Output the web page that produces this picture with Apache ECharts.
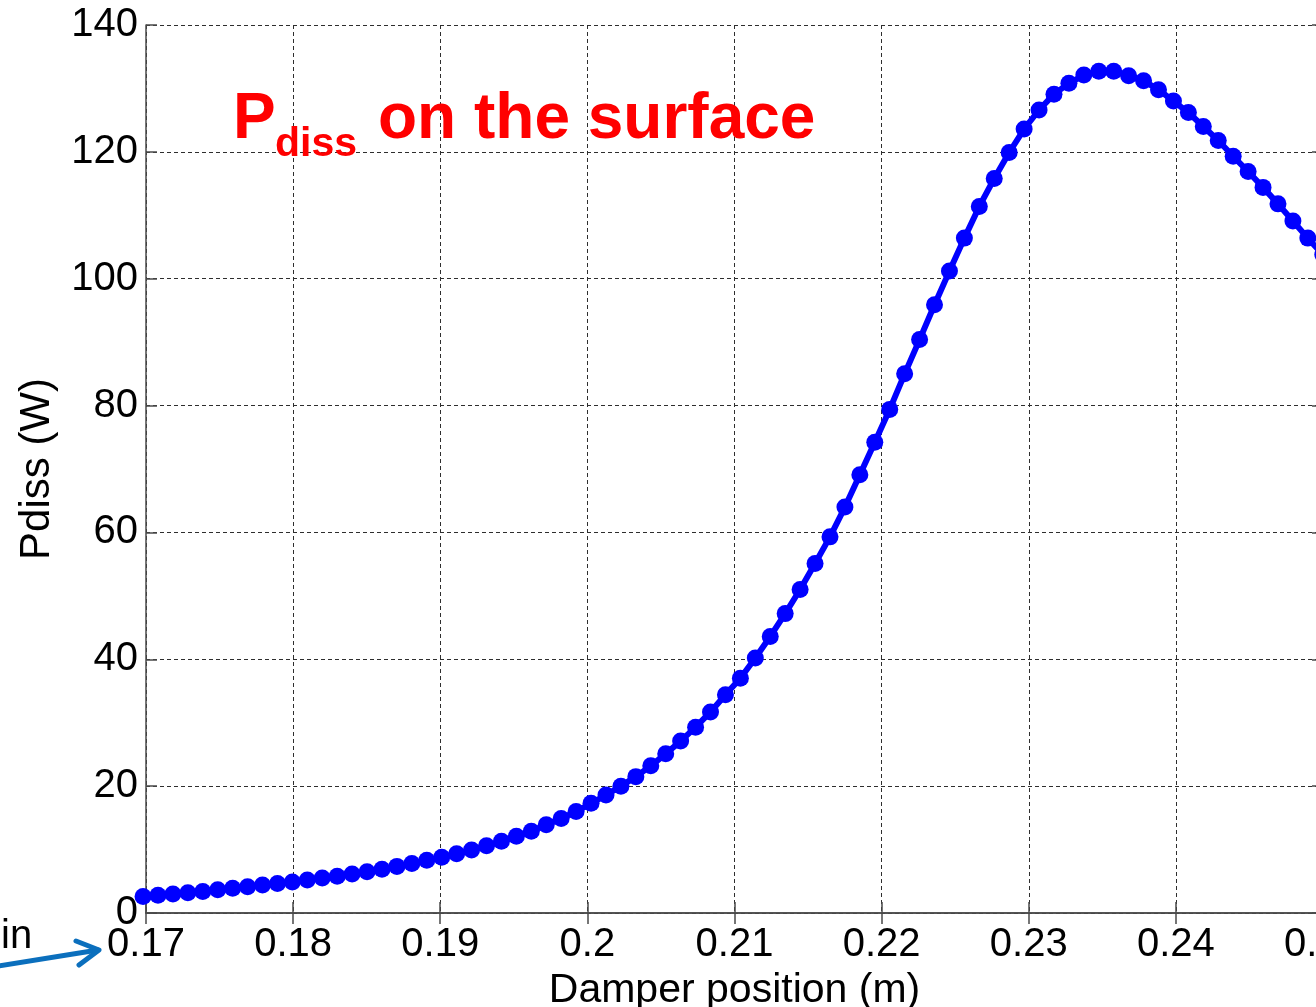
<!DOCTYPE html>
<html>
<head>
<meta charset="utf-8">
<script src="https://cdn.jsdelivr.net/npm/echarts@6/dist/echarts.min.js"></script>
<style>
  html, body { margin: 0; padding: 0; background: #ffffff; }
  #chart { width: 1316px; height: 1007px; }
</style>
</head>
<body>
<div id="chart"></div>
<script>
// Damper position along the sweep (m)
const positionM = [
  0.169800, 0.170815, 0.171830, 0.172845, 0.173860, 0.174875, 0.175890, 0.176905, 0.177920, 0.178935,
  0.179950, 0.180965, 0.181980, 0.182995, 0.184010, 0.185025, 0.186040, 0.187055, 0.188070, 0.189085,
  0.190100, 0.191115, 0.192130, 0.193145, 0.194160, 0.195175, 0.196190, 0.197205, 0.198220, 0.199235,
  0.200250, 0.201265, 0.202280, 0.203295, 0.204310, 0.205325, 0.206340, 0.207355, 0.208370, 0.209385,
  0.210400, 0.211415, 0.212430, 0.213445, 0.214460, 0.215475, 0.216490, 0.217505, 0.218520, 0.219535,
  0.220550, 0.221565, 0.222580, 0.223595, 0.224610, 0.225625, 0.226640, 0.227655, 0.228670, 0.229685,
  0.230700, 0.231715, 0.232730, 0.233745, 0.234760, 0.235775, 0.236790, 0.237805, 0.238820, 0.239835,
  0.240850, 0.241865, 0.242880, 0.243895, 0.244910, 0.245925, 0.246940, 0.247955, 0.248970, 0.249985
];

// Dissipated power on the surface (W)
const pdissW = [
  2.6, 2.8, 3.0, 3.2, 3.4, 3.65, 3.9, 4.15, 4.4, 4.65,
  4.9, 5.2, 5.5, 5.8, 6.15, 6.5, 6.9, 7.35, 7.8, 8.3,
  8.8, 9.35, 9.95, 10.6, 11.3, 12.1, 12.9, 13.9, 14.9, 16.0,
  17.3, 18.6, 20.0, 21.5, 23.2, 25.1, 27.1, 29.3, 31.7, 34.4,
  37.0, 40.2, 43.6, 47.2, 51.0, 55.1, 59.3, 64.0, 69.1, 74.2,
  79.4, 85.0, 90.4, 95.9, 101.2, 106.4, 111.4, 115.8, 119.9, 123.6,
  126.6, 129.1, 130.8, 132.1, 132.7, 132.7, 132.0, 131.2, 129.8, 128.0,
  126.2, 124.0, 121.8, 119.3, 116.9, 114.4, 111.8, 109.1, 106.4, 103.8
];

// Axis ranges and tick steps
const xRange = [0.17, 0.25];
const xStep = 0.01;
const yRange = [0, 140];
const yStep = 20;

const seriesData = positionM.map((x, i) => [x, pdissW[i]]);

const FONT = '"Liberation Sans", Arial, Helvetica, sans-serif';
const axisColor = '#4a4a4a';
const gridLine = { show: true, lineStyle: { color: '#2e2e2e', width: 1, type: [4, 3] } };

const chart = echarts.init(document.getElementById('chart'), null, { renderer: 'canvas' });

chart.setOption({
  animation: false,
  backgroundColor: '#ffffff',
  grid: { left: 146, top: 25, right: -7, bottom: 94, containLabel: false, outerBoundsMode: 'none' },
  xAxis: [
    {
      type: 'value', position: 'bottom',
      min: xRange[0], max: xRange[1], interval: xStep,
      name: 'Damper position (m)', nameLocation: 'middle', nameGap: 55,
      nameTextStyle: { fontFamily: FONT, fontSize: 41, color: '#000' },
      axisLine: { show: true, lineStyle: { color: axisColor, width: 1.5 } },
      axisTick: { show: true, inside: true, length: 11, lineStyle: { color: axisColor, width: 1.5 } },
      axisLabel: { fontFamily: FONT, fontSize: 40, color: '#000', margin: 12, showMinLabel: true, showMaxLabel: true, hideOverlap: false },
      splitLine: gridLine
    },
    {
      type: 'value', position: 'top',
      min: xRange[0], max: xRange[1], interval: xStep,
      axisLine: { show: true, lineStyle: { color: axisColor, width: 1.5 } },
      axisTick: { show: true, inside: true, length: 11, lineStyle: { color: axisColor, width: 1.5 } },
      axisLabel: { show: false },
      splitLine: { show: false }
    }
  ],
  yAxis: [
    {
      type: 'value', position: 'left',
      min: yRange[0], max: yRange[1], interval: yStep,
      name: 'Pdiss (W)', nameLocation: 'middle', nameGap: 88, nameRotate: 90,
      nameTextStyle: { fontFamily: FONT, fontSize: 42, color: '#000' },
      axisLine: { show: true, lineStyle: { color: axisColor, width: 1.5 } },
      axisTick: { show: true, inside: true, length: 11, lineStyle: { color: axisColor, width: 1.5 } },
      axisLabel: { fontFamily: FONT, fontSize: 40, color: '#000', margin: 8 },
      splitLine: gridLine
    },
    {
      type: 'value', position: 'right',
      min: yRange[0], max: yRange[1], interval: yStep,
      axisLine: { show: true, lineStyle: { color: axisColor, width: 1.5 } },
      axisTick: { show: true, inside: true, length: 11, lineStyle: { color: axisColor, width: 1.5 } },
      axisLabel: { show: false },
      splitLine: { show: false }
    }
  ],
  series: [
    {
      type: 'line',
      xAxisIndex: 0, yAxisIndex: 0,
      data: seriesData,
      symbol: 'circle',
      symbolSize: 17,
      showAllSymbol: true,
      clip: false,
      lineStyle: { color: '#0000ff', width: 6 },
      itemStyle: { color: '#0000ff', borderColor: '#0000ff', borderWidth: 0 },
      z: 5
    }
  ],
  graphic: [
    {
      type: 'text', z: 100,
      style: { x: 233, y: 120, text: 'P', fill: '#ff0000', font: 'bold 64px ' + FONT, textVerticalAlign: 'middle' }
    },
    {
      type: 'text', z: 100,
      style: { x: 275, y: 145, text: 'diss', fill: '#ff0000', font: 'bold 41px ' + FONT, textVerticalAlign: 'middle' }
    },
    {
      type: 'text', z: 100,
      style: { x: 378, y: 120, text: 'on the surface', fill: '#ff0000', font: 'bold 64px ' + FONT, textVerticalAlign: 'middle' }
    },
    {
      type: 'text', z: 100,
      style: { x: 1, y: 937, text: 'in', fill: '#000000', font: '40px ' + FONT, textVerticalAlign: 'middle' }
    },
    {
      type: 'polyline', z: 100,
      shape: { points: [[-2, 966], [98, 950]] },
      style: { stroke: '#0b6fbd', lineWidth: 5, fill: null, lineCap: 'round' }
    },
    {
      type: 'polyline', z: 100,
      shape: { points: [[76, 941], [99, 950], [79, 965]] },
      style: { stroke: '#0b6fbd', lineWidth: 5, fill: null, lineCap: 'round', lineJoin: 'round' }
    }
  ]
});
</script>
</body>
</html>
